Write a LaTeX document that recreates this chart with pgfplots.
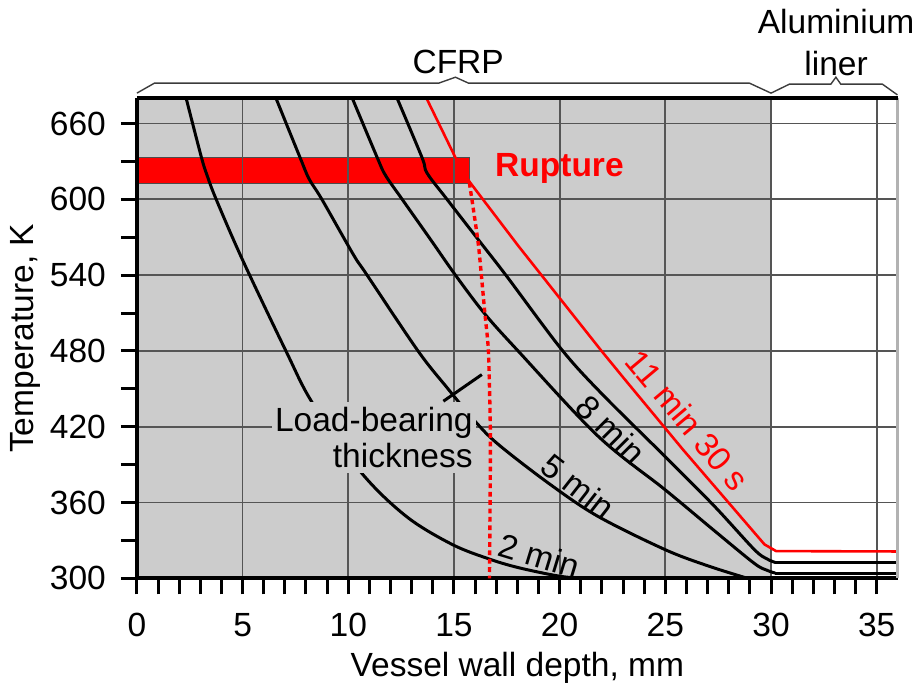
\documentclass[border=0pt]{standalone}
\usepackage{fontspec}
\setmainfont{Liberation Sans}
\usepackage{pgfplots}
\pgfplotsset{compat=1.18}
\definecolor{bggray}{RGB}{204,204,204}
\definecolor{gridgray}{RGB}{85,85,85}
\definecolor{rupred}{RGB}{255,0,0}
\definecolor{bracegray}{RGB}{60,60,60}
\newcommand{\fs}{\fontsize{16.8}{20}\selectfont}
\begin{document}
\begin{tikzpicture}
\pgfplotsset{set layers}
\begin{axis}[
  scale only axis, width=381.35pt, height=240.65pt,
  xmin=0, xmax=36, ymin=300, ymax=680,
  axis x line*=bottom, axis y line*=left,
  axis line style={line width=2pt, black},
  xtick={0,5,...,35}, ytick={300,360,...,660},
  minor x tick num=4, minor y tick num=1,
  tick align=outside, major tick length=8pt, minor tick length=8pt,
  tick style={line width=1.5pt, black},
  grid=major, major grid style={line width=0.9pt, gridgray},
  clip mode=individual,
  font=\fs,
  tick label style={font=\fs},
  xticklabel style={yshift=-6pt},
  yticklabel style={xshift=-4pt},
  /pgf/number format/assume math mode=true,
  xlabel={Vessel wall depth, mm}, ylabel={Temperature, K},
  label style={font=\fs},
  xlabel style={at={(axis description cs:0.5,-0.186)}, anchor=center},
  ylabel style={at={(axis description cs:-0.1459,0.5)}, anchor=center},
]
% background regions
\addplot[fill=bggray, draw=none, on layer=axis background] coordinates {(0,300) (30,300) (30,680) (0,680)} -- cycle;
\addplot[fill=rupred, draw=black!70, line width=0.6pt, on layer=axis background] coordinates {(0,612.8) (15.73,612.8) (15.73,633.1) (0,633.1)} -- cycle;

% 2 min
\addplot[black, line width=1.5pt, smooth, tension=0.55] coordinates {
(2.33,680) (3.04,634) (3.32,619) (3.75,600) (5.0,552) (7.05,480) (8.3,439) (10.6,384) (12.75,349) (14.9,327) (16.64,315.5) (18.05,308.5) (19.9,302) (21,300)};
% 5 min
\addplot[black, line width=1.5pt, smooth, tension=0.55] coordinates {
(6.58,680) (7.72,633) (8.15,616) (8.75,600) (10.25,556) (10.85,541) (13.3,480) (14.67,451) (16.0,424.3) (17.1,406) (19.5,375) (21.8,349.2) (24.97,322.9) (27,310) (28.9,300)};
% 8 min
\addplot[black, line width=1.5pt, smooth, tension=0.55] coordinates {
(10.19,680) (11.37,633) (11.76,619) (12.55,600) (13.9,568) (15.07,540) (16.45,509.5) (18.05,479.7) (21.82,412.5) (24.97,370.4) (27.3,338) (29.2,312) (29.8,306.5) (30.2,304.2)};
\addplot[black, line width=1.5pt] coordinates {(30.2,304.2) (36,304.2)};
% unlabelled curve
\addplot[black, line width=1.5pt, smooth, tension=0.55] coordinates {
(12.31,680) (13.49,633) (13.73,620.7) (14.67,600) (16.2,567) (17.5,539) (20.1,481) (22.0,446) (24.97,396.7) (27.3,357.5) (29.2,323) (29.8,315.5) (30.2,312.6)};
\addplot[black, line width=1.5pt] coordinates {(30.2,312.6) (36,312.6)};
% 11 min 30 s
\addplot[rupred, line width=1.3pt] coordinates {
(13.7,680) (15.07,633) (15.73,614) (18.05,563) (21.98,480) (23.09,457.3) (25.83,402) (29.69,326.9) (30.24,321.6) (36,321.3)};
% load-bearing thickness
\addplot[rupred, line width=1.7pt, dash pattern=on 2.4pt off 1.8pt, smooth, tension=0.4] coordinates {
(15.73,613) (15.92,592) (16.17,562) (16.45,512) (16.63,480) (16.72,420) (16.72,383) (16.68,300)};

% frame (top and right)
\draw[line width=1.6pt, black!30] (rel axis cs:1,0) -- (rel axis cs:1,1);
\draw[line width=2pt, black] (rel axis cs:0,1) -- (rel axis cs:1,1);

% annotations
\node[fill=bggray, inner xsep=1.5pt, inner ysep=2.5pt, align=right, font=\fontsize{16.8}{17.8}\selectfont] at (axis cs:11.21,411.5) {Load-bearing\\thickness};
\draw[line width=1.5pt] (axis cs:14.5,440.2) -- (axis cs:16.32,461.3);
\node[text=rupred, font=\bfseries\fs] at (axis cs:19.99,624.1) {Rupture};
\node[rotate=-45] at (axis cs:22.43,417.8) {8 min};
\node[rotate=-38] at (axis cs:20.88,372.7) {5 min};
\node[rotate=-17] at (axis cs:19.04,318.2) {2 min};
\node[rotate=-50, text=rupred] at (axis cs:26.07,424.9) {11 min 30 s};
\node at (axis cs:15.2,708.3) {CFRP};
\node[align=center, font=\fontsize{16.8}{21}\selectfont] at (axis cs:33.08,723.7) {Aluminium\\liner};
\draw[line width=0.7pt, bracegray] (axis cs:0,684) -- (axis cs:0.83,691.9) -- (axis cs:14.28,691.9) -- (axis cs:15.07,696.6) -- (axis cs:15.69,691.9) -- (axis cs:28.98,691.9) -- (axis cs:30,684);
\draw[line width=0.7pt, bracegray] (axis cs:30,684) -- (axis cs:30.87,691.1) -- (axis cs:32.83,691.1) -- (axis cs:33.07,696.6) -- (axis cs:33.30,691.1) -- (axis cs:35.27,691.1) -- (axis cs:35.98,682.6);
% picture extent
\path (axis cs:-6.476,216.2) rectangle (axis cs:36.97,757.7);
\end{axis}
\end{tikzpicture}
\end{document}
